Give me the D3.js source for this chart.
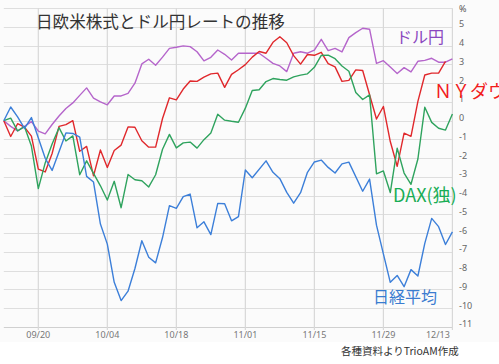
<!DOCTYPE html>
<html><head><meta charset="utf-8">
<script src="https://cdn.jsdelivr.net/npm/d3@7"></script>
<style>
html,body{margin:0;padding:0;background:#fff;}
svg{display:block;font-family:"Noto Sans CJK JP","Noto Sans",sans-serif;}
</style></head><body>
<svg id="c" width="499" height="364"></svg>
<script>
const dates = ["09/13","09/14","09/15","09/16","09/17","09/20","09/21","09/22","09/23","09/24",
"09/27","09/28","09/29","09/30","10/01","10/04","10/05","10/06","10/07","10/08",
"10/11","10/12","10/13","10/14","10/15","10/18","10/19","10/20","10/21","10/22",
"10/25","10/26","10/27","10/28","10/29","11/01","11/02","11/03","11/04","11/05",
"11/08","11/09","11/10","11/11","11/12","11/15","11/16","11/17","11/18","11/19",
"11/22","11/23","11/24","11/25","11/26","11/29","11/30","12/01","12/02","12/03",
"12/06","12/07","12/08","12/09","12/10","12/13"];
const tickDates = ["09/20","10/04","10/18","11/01","11/15","11/29","12/13"];
const yTicks = [5,4,3,2,1,0,-1,-2,-3,-4,-5,-6,-7,-8,-9,-10,-11];

const usdjpy = [0,-0.3,-0.55,-0.3,-0.05,-0.55,-0.7,-0.2,0.25,0.65,
0.95,1.35,1.75,1.2,1.0,0.85,1.32,1.32,1.46,2.0,
3.03,3.28,2.96,3.39,3.86,3.92,3.99,3.95,3.68,3.19,
3.38,3.77,3.54,3.24,3.6,3.6,3.6,3.6,3.33,3.06,
2.92,2.62,3.6,3.68,3.6,3.77,4.34,3.74,3.86,3.67,
4.43,4.7,4.93,4.88,3.06,3.2,2.86,2.52,2.83,2.6,
3.17,3.22,3.33,3.12,3.12,3.3];
const dow = [0,-0.84,-0.16,-0.34,-0.82,-2.58,-2.73,-1.75,-0.30,-0.21,
0.0,-1.63,-1.37,-2.94,-1.56,-2.49,-1.59,-1.30,-0.33,-0.35,
-1.07,-1.41,-1.41,0.12,1.22,1.11,1.69,2.12,2.10,2.32,
2.50,2.54,1.78,2.47,2.72,2.99,3.39,3.69,3.60,4.18,
4.48,4.16,3.47,3.02,3.53,3.49,3.65,3.05,2.87,2.10,
2.15,2.71,2.68,null,0.09,0.76,-1.11,-2.43,-0.66,-0.83,
1.03,2.44,2.54,2.54,3.16,null];
const dax = [0,0.14,-0.54,-0.32,-1.35,-3.62,-2.25,-1.24,-0.37,-1.08,
-0.81,-2.88,-2.14,-2.81,-3.47,-4.23,-3.23,-4.64,-2.87,-3.15,
-3.20,-3.53,-2.88,-1.52,-0.73,-1.45,-1.18,-1.14,-1.46,-1.01,
-0.65,0.35,0.03,-0.03,-0.08,0.67,1.61,1.65,2.09,2.25,
2.20,2.16,2.34,2.43,2.50,2.85,3.48,3.50,3.31,2.92,
2.64,1.50,1.13,1.38,-2.83,-2.68,-3.83,-1.46,-2.79,-3.39,
-2.04,0.72,-0.09,-0.40,-0.50,0.36];
const nikkei = [0,0.73,0.21,-0.41,0.17,null,-2.00,-2.65,null,-0.65,
-0.68,-0.87,-2.97,-3.27,-5.51,-6.58,-8.62,-9.59,-9.09,-7.88,
-6.40,-7.28,-7.58,-6.23,-4.53,-4.67,-4.05,-3.91,-5.71,-5.39,
-6.07,-4.41,-4.43,-5.34,-5.11,-2.63,-3.04,null,-2.14,-2.75,
-3.09,-3.82,-4.40,-3.84,-2.75,-2.20,-2.10,-2.49,-2.79,-2.30,
-2.21,null,-3.76,-3.11,-5.57,-7.10,-8.62,-8.25,-8.85,-7.94,
-8.28,-6.54,-5.21,-5.65,-6.60,-5.93];

const seriesNames = ["ドル円","NYダウ","DAX(独)","日経平均"];
const seriesData = [usdjpy, dow, dax, nikkei];
const lineColors = ["#B565CB","#E0282C","#2FA35E","#3C7FD9"];
const labelColors = ["#8A47BF","#F21C1C","#18AD55","#3A7CD0"];
const labelTexts = ["ドル円","ＮＹダウ","DAX(独)","日経平均"];
const labelPos = [[396,43,16],[434,98,18],[393,202,18],[373,303,16]];

const svg = d3.select("#c");
svg.append("rect").attr("x",0).attr("y",0).attr("width",499).attr("height",342).attr("fill","#FBFBFB");

const x = d3.scalePoint().domain(dates).range([3.8,452.4]);
const y = d3.scaleLinear().domain([-11,6]).range([327,8.2]);

// horizontal grid
const hg = d3.range(-11,7);
svg.append("g").selectAll("line").data(hg).join("line")
  .attr("x1",3.8).attr("x2",452.4)
  .attr("y1",d=>Math.round(y(d))+0.5).attr("y2",d=>Math.round(y(d))+0.5)
  .attr("stroke",d=>d===-11?"#D0D0D0":"#DEDEDE").attr("stroke-width",1.2);
// vertical grid
svg.append("g").selectAll("line").data(tickDates).join("line")
  .attr("x1",d=>x(d)).attr("x2",d=>x(d))
  .attr("y1",y(6)).attr("y2",y(-11)+3)
  .attr("stroke","#D8D8D8").attr("stroke-width",1.2);

// x labels
const lastTick = tickDates[tickDates.length-1];
svg.append("g").selectAll("text").data(tickDates).join("text")
  .attr("x",d=>d===lastTick?x(d)-2.5:x(d)).attr("y",338)
  .attr("text-anchor",d=>d===lastTick?"end":"middle")
  .attr("font-size",9).attr("fill","#777").attr("font-family","Noto Sans, sans-serif")
  .text(d=>d);
// y labels
svg.append("g").selectAll("text").data(yTicks).join("text")
  .attr("x",459).attr("y",d=>y(d)+0.3)
  .attr("font-size",9).attr("fill","#666").attr("font-family","Noto Sans, sans-serif")
  .text(d=>d);
svg.append("text").attr("x",459).attr("y",12).attr("font-size",9).attr("fill","#555")
  .attr("font-family","Noto Sans, sans-serif").text("%");

// lines
const line = d3.line().x(d=>x(d.d)).y(d=>y(d.v));
seriesData.forEach((arr,k)=>{
  const pts = arr.map((v,i)=>({d:dates[i],v})).filter(p=>p.v!==null);
  svg.append("path").datum(pts).attr("d",line).attr("fill","none")
    .attr("stroke",lineColors[k]).attr("stroke-width",1.4).attr("stroke-linejoin","round");
});

// series labels
labelTexts.forEach((t,k)=>{
  svg.append("text").attr("x",labelPos[k][0]).attr("y",labelPos[k][1])
    .attr("font-size",labelPos[k][2]).attr("fill",labelColors[k]).text(t);
});

// title
svg.append("text").attr("x",36).attr("y",28).attr("font-size",16.6).attr("fill","#333")
  .text("日欧米株式とドル円レートの推移");
// source
svg.append("text").attr("x",341).attr("y",355).attr("font-size",10.5).attr("fill","#333")
  .text("各種資料よりTrioAM作成");
</script>
</body></html>
